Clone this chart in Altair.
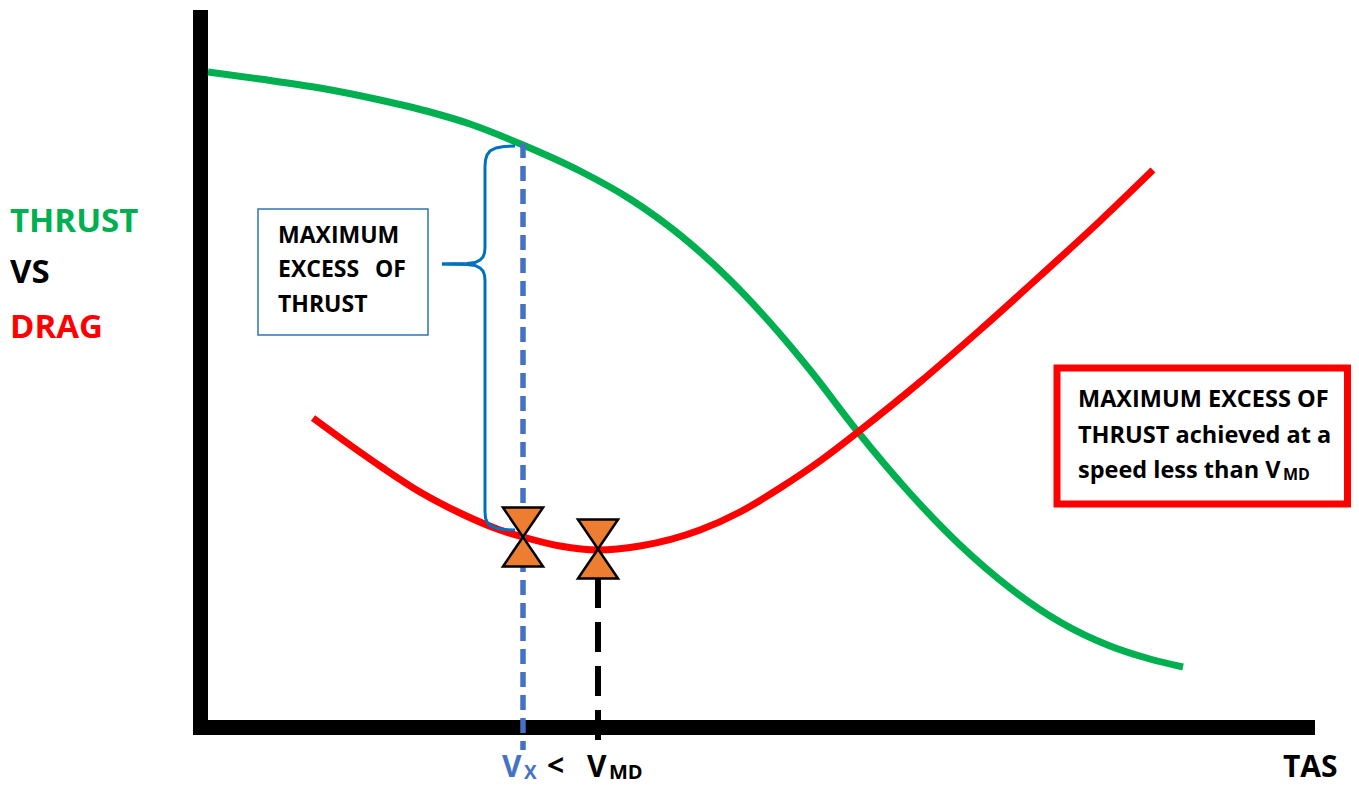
import altair as alt
import pandas as pd

# ---- diagram values (x = TAS, y = force; y axis grows downward) ----
thrust_tas = [208, 260, 320, 380, 430, 470, 523, 580, 630, 680, 730, 780, 810, 858, 907, 960, 1010, 1060, 1110, 1150, 1183]
thrust_force = [72, 79, 88, 100, 112, 124, 145, 171, 199, 235, 280, 334, 370, 432, 490, 545, 588, 622, 646, 659, 667]

drag_tas = [313, 350, 383, 420, 460, 500, 523, 560, 598, 640, 700, 740, 780, 820, 858, 920, 980, 1040, 1100, 1153]
drag_force = [418, 445, 468, 492, 513, 530, 537, 546, 550, 546, 530, 512, 488, 461, 432, 382, 330, 276, 221, 170]

vx_tas, vx_force = 523, 537     # point of max excess thrust
vmd_tas, vmd_force = 598, 549   # minimum drag point

brace_x = [515, 504, 496, 490, 487, 485.5, 485, 485, 484.5, 483, 480, 475, 467, 442,
           442, 467, 475, 480, 483, 484.5, 485, 485, 485.5, 487, 490, 496, 504, 515]
brace_y = [146, 146.5, 148, 151, 155, 160, 166, 248, 253, 257, 260, 262.5, 263.5, 264,
           264, 264.5, 265.5, 268, 271, 275, 280, 512, 518, 522, 525.5, 528, 529.5, 530]
brace_part = ["a"] * 14 + ["b"] * 14

X = alt.Scale(domain=[8, 1351], nice=False, zero=False)
Y = alt.Scale(domain=[8, 785], nice=False, zero=False, reverse=True)


def ex(f="x"):
    return alt.X(f"{f}:Q", scale=X, axis=None)


def ey(f="y"):
    return alt.Y(f"{f}:Q", scale=Y, axis=None)


FONT = "Open Sans"

# axes frame
v_axis = alt.Chart(pd.DataFrame({"x": [200.5], "y": [10], "y2": [735]})).mark_rule(
    color="black", strokeWidth=15).encode(x=ex(), y=ey(), y2="y2:Q")
h_axis = alt.Chart(pd.DataFrame({"y": [727.5], "x": [193], "x2": [1315]})).mark_rule(
    color="black", strokeWidth=15).encode(y=ey(), x=ex(), x2="x2:Q")

thrust = alt.Chart(pd.DataFrame({"x": thrust_tas, "y": thrust_force})).mark_line(
    color="#00B050", strokeWidth=7, interpolate="monotone").encode(x=ex(), y=ey())
drag = alt.Chart(pd.DataFrame({"x": drag_tas, "y": drag_force})).mark_line(
    color="#FF0000", strokeWidth=7, interpolate="monotone").encode(x=ex(), y=ey())

blue_dash = alt.Chart(pd.DataFrame({"x": [vx_tas], "y": [143], "y2": [750]})).mark_rule(
    color="#4472C4", strokeWidth=5.5, strokeDash=[15, 8]).encode(x=ex(), y=ey(), y2="y2:Q")
black_dash = alt.Chart(pd.DataFrame({"x": [vmd_tas], "y": [578], "y2": [752]})).mark_rule(
    color="black", strokeWidth=6, strokeDash=[30, 14]).encode(x=ex(), y=ey(), y2="y2:Q")

brace_df = pd.DataFrame({"x": brace_x, "y": brace_y, "part": brace_part,
                         "o": list(range(len(brace_x)))})
brace = alt.Chart(brace_df).mark_line(color="#0070C0", strokeWidth=3).encode(
    x=ex(), y=ey(), detail="part:N", order="o:Q")

markers = alt.Chart(pd.DataFrame({"x": [vx_tas, vmd_tas], "y": [vx_force, vmd_force]})).mark_point(
    shape="M-0.68,-1L0.68,-1L-0.68,1L0.68,1Z", size=3481, filled=True, fill="#ED7D31",
    stroke="black", strokeWidth=2.5, opacity=1).encode(x=ex(), y=ey())

blue_box = alt.Chart(pd.DataFrame({"x": [258], "x2": [428], "y": [209], "y2": [335]})).mark_rect(
    fill="white", stroke="#2E75B6", strokeWidth=1.5).encode(x=ex(), x2="x2:Q", y=ey(), y2="y2:Q")
red_box = alt.Chart(pd.DataFrame({"x": [1057], "x2": [1347.5], "y": [368], "y2": [504]})).mark_rect(
    fill="white", stroke="#FF0000", strokeWidth=7).encode(x=ex(), x2="x2:Q", y=ey(), y2="y2:Q")


def text_layer(texts, xs, ys, color, size):
    df = pd.DataFrame({"t": texts, "x": xs, "y": ys})
    return alt.Chart(df).mark_text(
        font=FONT, fontWeight="bold", fontSize=size, color=color,
        align="left", baseline="alphabetic").encode(x=ex(), y=ey(), text="t:N")


t_thrust = text_layer(["THRUST"], [10], [232], "#00B050", 33)
t_vs = text_layer(["VS"], [10], [283], "black", 33)
t_drag = text_layer(["DRAG"], [10], [338], "#FF0000", 33)

box_lines = text_layer(["MAXIMUM", "EXCESS", "OF", "THRUST"],
                       [278, 278, 375, 278], [243, 277, 277, 312], "black", 23)

red_lines = text_layer(["MAXIMUM EXCESS OF", "THRUST achieved at a", "speed less than V"],
                       [1078, 1078, 1078], [407, 443, 478], "black", 23.5)
red_sub = text_layer(["MD"], [1283], [480], "black", 16)

t_vx = text_layer(["V"], [502], [777], "#4472C4", 30)
t_vx_sub = text_layer(["X"], [524], [779], "#4472C4", 19)
t_lt = text_layer(["<"], [547], [776], "black", 30)
t_v = text_layer(["V"], [587], [777], "black", 30)
t_md_sub = text_layer(["MD"], [609], [779], "black", 20)
t_tas = text_layer(["TAS"], [1283], [777], "black", 30)

chart = alt.layer(
    v_axis, h_axis, thrust, drag, blue_dash, black_dash, brace, markers,
    blue_box, red_box, t_thrust, t_vs, t_drag, box_lines, red_lines, red_sub,
    t_vx, t_vx_sub, t_lt, t_v, t_md_sub, t_tas
).properties(
    width=1343, height=777,
    autosize=alt.AutoSizeParams(type="none"), padding=0
).configure_view(stroke=None)

chart.save("out.html", embed_options={"renderer": "svg", "actions": False})
